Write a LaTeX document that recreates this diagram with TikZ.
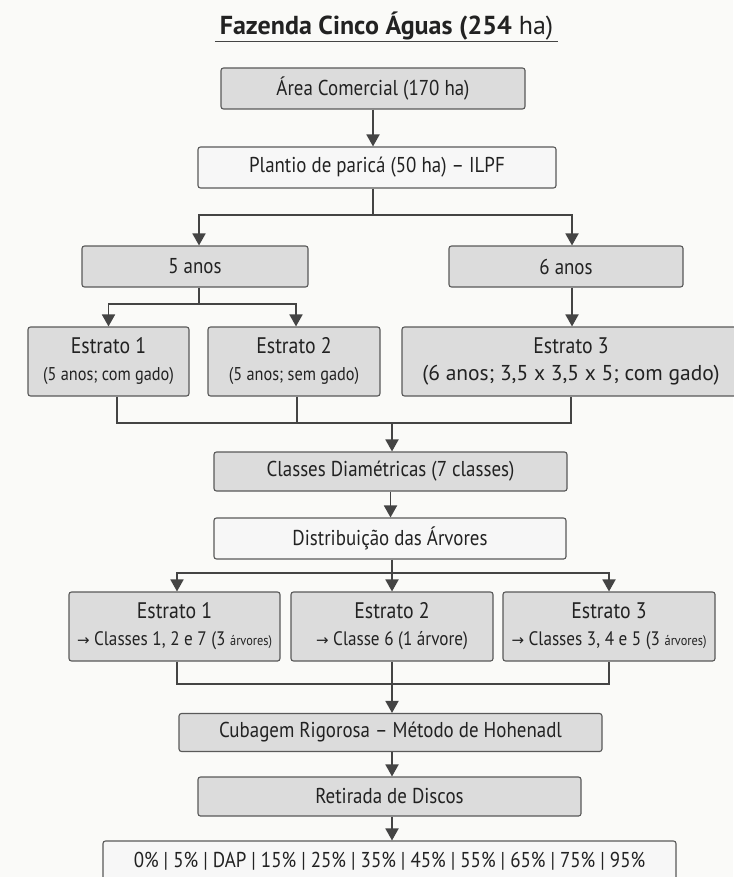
\documentclass[tikz,border=0pt]{standalone}
\usepackage{fontspec}
\setmainfont{PT Sans}
\newfontfamily\narrowfont{PT Sans}[FakeStretch=0.88, Ligatures=TeX]
\newfontfamily\arrowfont{DejaVu Sans}
\usepackage{xcolor}
\usepackage{tikz}
\usetikzlibrary{arrows.meta}

\definecolor{paper}{HTML}{FAFAF8}
\definecolor{boxfill}{HTML}{DCDCDC}
\definecolor{palefill}{HTML}{F7F7F7}
\definecolor{boxedge}{HTML}{595959}
\definecolor{linkgray}{HTML}{444444}
\definecolor{ink}{HTML}{222222}

\tikzset{
    box/.style={draw=boxedge, fill=boxfill, line width=1.1pt, rounded corners=2.5pt,
        inner sep=0pt, align=center, text=ink, font=\narrowfont\fontsize{21.5}{27}\selectfont},
    palebox/.style={box, fill=palefill},
    link/.style={draw=linkgray, line width=1.8pt},
    flow/.style={link, -{Triangle[length=12pt, width=13pt]}},
}
\newcommand{\headline}{\fontsize{22.5}{29}\selectfont}
\newcommand{\subline}{\fontsize{18.5}{24}\selectfont}
\newcommand{\wideline}{\normalfont\fontsize{21.5}{27}\selectfont}
\newcommand{\classline}{\fontsize{19.5}{25}\selectfont}
\newcommand{\tinyline}{\fontsize{14}{18}\selectfont}
\newcommand{\pointer}{{\arrowfont\fontsize{15}{18}\selectfont →}}

\begin{document}
\begin{tikzpicture}[x=1pt, y=-1pt]
    \fill[paper] (0, 0) rectangle (733, 877);
    \useasboundingbox (0, 0) rectangle (733, 877);

    % title
    \node[inner sep=0pt, minimum width=343pt, minimum height=30pt, text=ink,
        font=\fontsize{26}{30}\selectfont] (title) at (386.5, 26)
        {\textbf{Fazenda Cinco Águas (254} ha)};
    \draw[draw=linkgray, line width=1.3pt] (title.south west) -- (title.south east);

    % boxes
    \node[box, minimum width=304pt, minimum height=41pt] (area) at (373, 88.5) {Área Comercial (170 ha)};
    \node[palebox, minimum width=358pt, minimum height=41pt] (plantio) at (377, 167.5) {Plantio de paricá (50 ha) – ILPF};
    \node[box, minimum width=226pt, minimum height=41pt] (cinco) at (195, 266.5) {5 anos};
    \node[box, minimum width=234pt, minimum height=41pt] (seis) at (566, 266.5) {6 anos};
    \node[box, minimum width=161pt, minimum height=69pt] (est1) at (108.5, 361.5)
        {\headline Estrato 1\\{\subline (5 anos; com gado)}};
    \node[box, minimum width=172pt, minimum height=69pt] (est2) at (294, 361.5)
        {\headline Estrato 2\\{\subline (5 anos; sem gado)}};
    \node[box, minimum width=338pt, minimum height=69pt] (est3) at (571, 361.5)
        {\headline Estrato 3\\{\wideline (6 anos; 3,5 x 3,5 x 5; com gado)}};
    \node[box, minimum width=353pt, minimum height=39pt] (classes) at (390.5, 471.5) {Classes Diamétricas (7 classes)};
    \node[palebox, minimum width=352pt, minimum height=41pt] (distrib) at (390, 538.5) {Distribuição das Árvores};
    \node[box, minimum width=211pt, minimum height=69pt] (dist1) at (174.5, 626.5)
        {\headline Estrato 1\\{\classline\pointer\ Classes 1, 2 e 7 (3 {\tinyline árvores)}}};
    \node[box, minimum width=202pt, minimum height=69pt] (dist2) at (392, 626.5)
        {\headline Estrato 2\\{\classline\pointer\ Classe 6 (1 árvore)}};
    \node[box, minimum width=212pt, minimum height=69pt] (dist3) at (609, 626.5)
        {\headline Estrato 3\\{\classline\pointer\ Classes 3, 4 e 5 (3 {\tinyline árvores)}}};
    \node[box, minimum width=423pt, minimum height=38pt] (cubagem) at (390.5, 732.5) {Cubagem Rigorosa – Método de Hohenadl};
    \node[box, minimum width=383pt, minimum height=39pt] (retirada) at (389.5, 796.5) {Retirada de Discos};
    \node[palebox, minimum width=573pt, minimum height=50pt, text depth=13pt] (discos) at (389.5, 866)
        {0\% | 5\% | DAP | 15\% | 25\% | 35\% | 45\% | 55\% | 65\% | 75\% | 95\%};

    % junctions
    \coordinate (split1) at (373, 215);
    \coordinate (to5) at (199, 215);
    \coordinate (to6) at (572, 215);
    \coordinate (split2) at (199, 304);
    \coordinate (merge1) at (392, 423);
    \coordinate (split3) at (392, 573);
    \coordinate (merge2) at (392, 684);

    % connectors
    \draw[flow] (area.south) -- (area.south |- plantio.north);
    \draw[link] (split1 |- plantio.south) -- (split1);
    \draw[flow] (split1) -- (to5) -- (to5 |- cinco.north);
    \draw[flow] (split1) -- (to6) -- (to6 |- seis.north);
    \draw[link] (split2 |- cinco.south) -- (split2);
    \draw[flow] (split2) -| (est1.north);
    \draw[flow] (split2) -| ([xshift=2pt]est2.north);
    \draw[flow] (to6 |- seis.south) -- (to6 |- est3.north);
    \draw[link] ([xshift=8.5pt]est1.south) |- (merge1) -| (est3.south);
    \draw[link] ([xshift=3pt]est2.south) -- ([xshift=3pt]est2.south |- merge1);
    \draw[flow] (merge1) -- (merge1 |- classes.north);
    \draw[flow] (classes.south) -- (classes.south |- distrib.north);
    \draw[link] (split3 |- distrib.south) -- (split3);
    \draw[flow] (split3) -| ([xshift=2.5pt]dist1.north);
    \draw[flow] (split3) -- (dist2.north);
    \draw[flow] (split3) -| (dist3.north);
    \draw[link] ([xshift=2.5pt]dist1.south) |- (merge2) -| (dist3.south);
    \draw[link] (dist2.south) -- (merge2);
    \draw[flow] (merge2) -- (merge2 |- cubagem.north);
    \draw[flow] (merge2 |- cubagem.south) -- (merge2 |- retirada.north);
    \draw[flow] (merge2 |- retirada.south) -- (merge2 |- discos.north);
\end{tikzpicture}
\end{document}
